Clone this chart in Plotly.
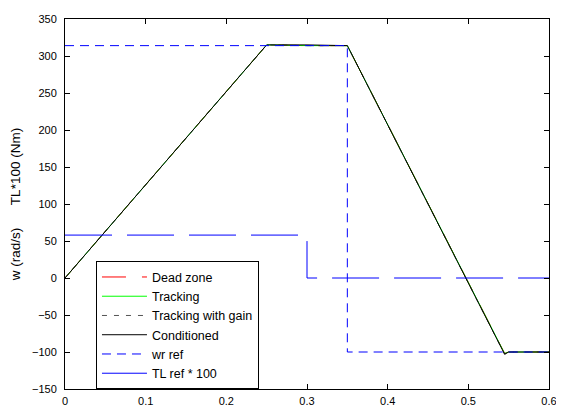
import plotly.graph_objects as go

# ---- data ----
t_speed = [0, 0.25, 0.30, 0.35, 0.545, 0.55, 0.60]
dead_zone = [0, 315, 314, 314, -102, -100, -100]
tracking = [0, 315, 314, 314, -102, -100, -100]
tracking_gain = [0, 315, 314, 314, -103, -100, -100]
conditioned = [0, 315, 315, 314, -103, -100, -100]

t_wr = [0, 0.35, 0.35, 0.60]
wr_ref = [314, 314, -100, -100]

t_tl = [0, 0.30, 0.30, 0.60]
tl_ref = [58, 58, 0, 0]

x_ticks = [0, 0.1, 0.2, 0.3, 0.4, 0.5, 0.6]
x_labels = ["0", "0.1", "0.2", "0.3", "0.4", "0.5", "0.6"]
y_ticks = [-150, -100, -50, 0, 50, 100, 150, 200, 250, 300, 350]

FONT = "Liberation Sans, Arial, Helvetica, sans-serif"

fig = go.Figure()
fig.add_trace(go.Scatter(x=t_speed, y=dead_zone, mode="lines", name="Dead zone",
                         line=dict(color="#ff0000", width=1, dash="24px,16px")))
fig.add_trace(go.Scatter(x=t_speed, y=tracking, mode="lines", name="Tracking",
                         line=dict(color="#00ff00", width=1)))
fig.add_trace(go.Scatter(x=t_speed, y=tracking_gain, mode="lines", name="Tracking with gain",
                         line=dict(color="#555555", width=1, dash="5px,7px")))
fig.add_trace(go.Scatter(x=t_speed, y=conditioned, mode="lines", name="Conditioned",
                         line=dict(color="#000000", width=1)))
fig.add_trace(go.Scatter(x=t_wr, y=wr_ref, mode="lines", name="wr ref",
                         line=dict(color="#0000ff", width=1, dash="9px,6px")))
fig.add_trace(go.Scatter(x=t_tl, y=tl_ref, mode="lines", name="TL ref * 100",
                         line=dict(color="#0000ff", width=1, dash="47px,15px")))

axis_common = dict(
    showline=True, linecolor="black", linewidth=1, mirror="allticks",
    ticks="inside", ticklen=5, tickcolor="black", tickwidth=1,
    showgrid=False, zeroline=False, ticklabeloverflow="allow",
    tickfont=dict(family=FONT, size=11, color="black"),
)

# page body has an 8px margin, so the figure is sized/offset accordingly
fig.update_layout(
    width=556, height=404,
    margin=dict(l=57, r=15, t=5, b=22),
    paper_bgcolor="white", plot_bgcolor="white",
    font=dict(family=FONT, size=11, color="black"),
    xaxis=dict(range=[0, 0.6], tickvals=x_ticks, ticktext=x_labels,
               ticklabelstandoff=2, **axis_common),
    yaxis=dict(range=[-150, 350], tickvals=y_ticks, ticklabelstandoff=5,
               title=dict(text="w (rad/s)" + "\u00a0" * 6 + "TL*100 (Nm)",
                          font=dict(family=FONT, size=13.5, color="black"), standoff=8),
               **axis_common),
    legend=dict(x=0.064, y=0.345, xanchor="left", yanchor="top",
                bgcolor="white", bordercolor="black", borderwidth=1,
                font=dict(family=FONT, size=12.5, color="black"),
                tracegroupgap=0, itemwidth=45),
    showlegend=True,
)

fig.write_html("out.html")
